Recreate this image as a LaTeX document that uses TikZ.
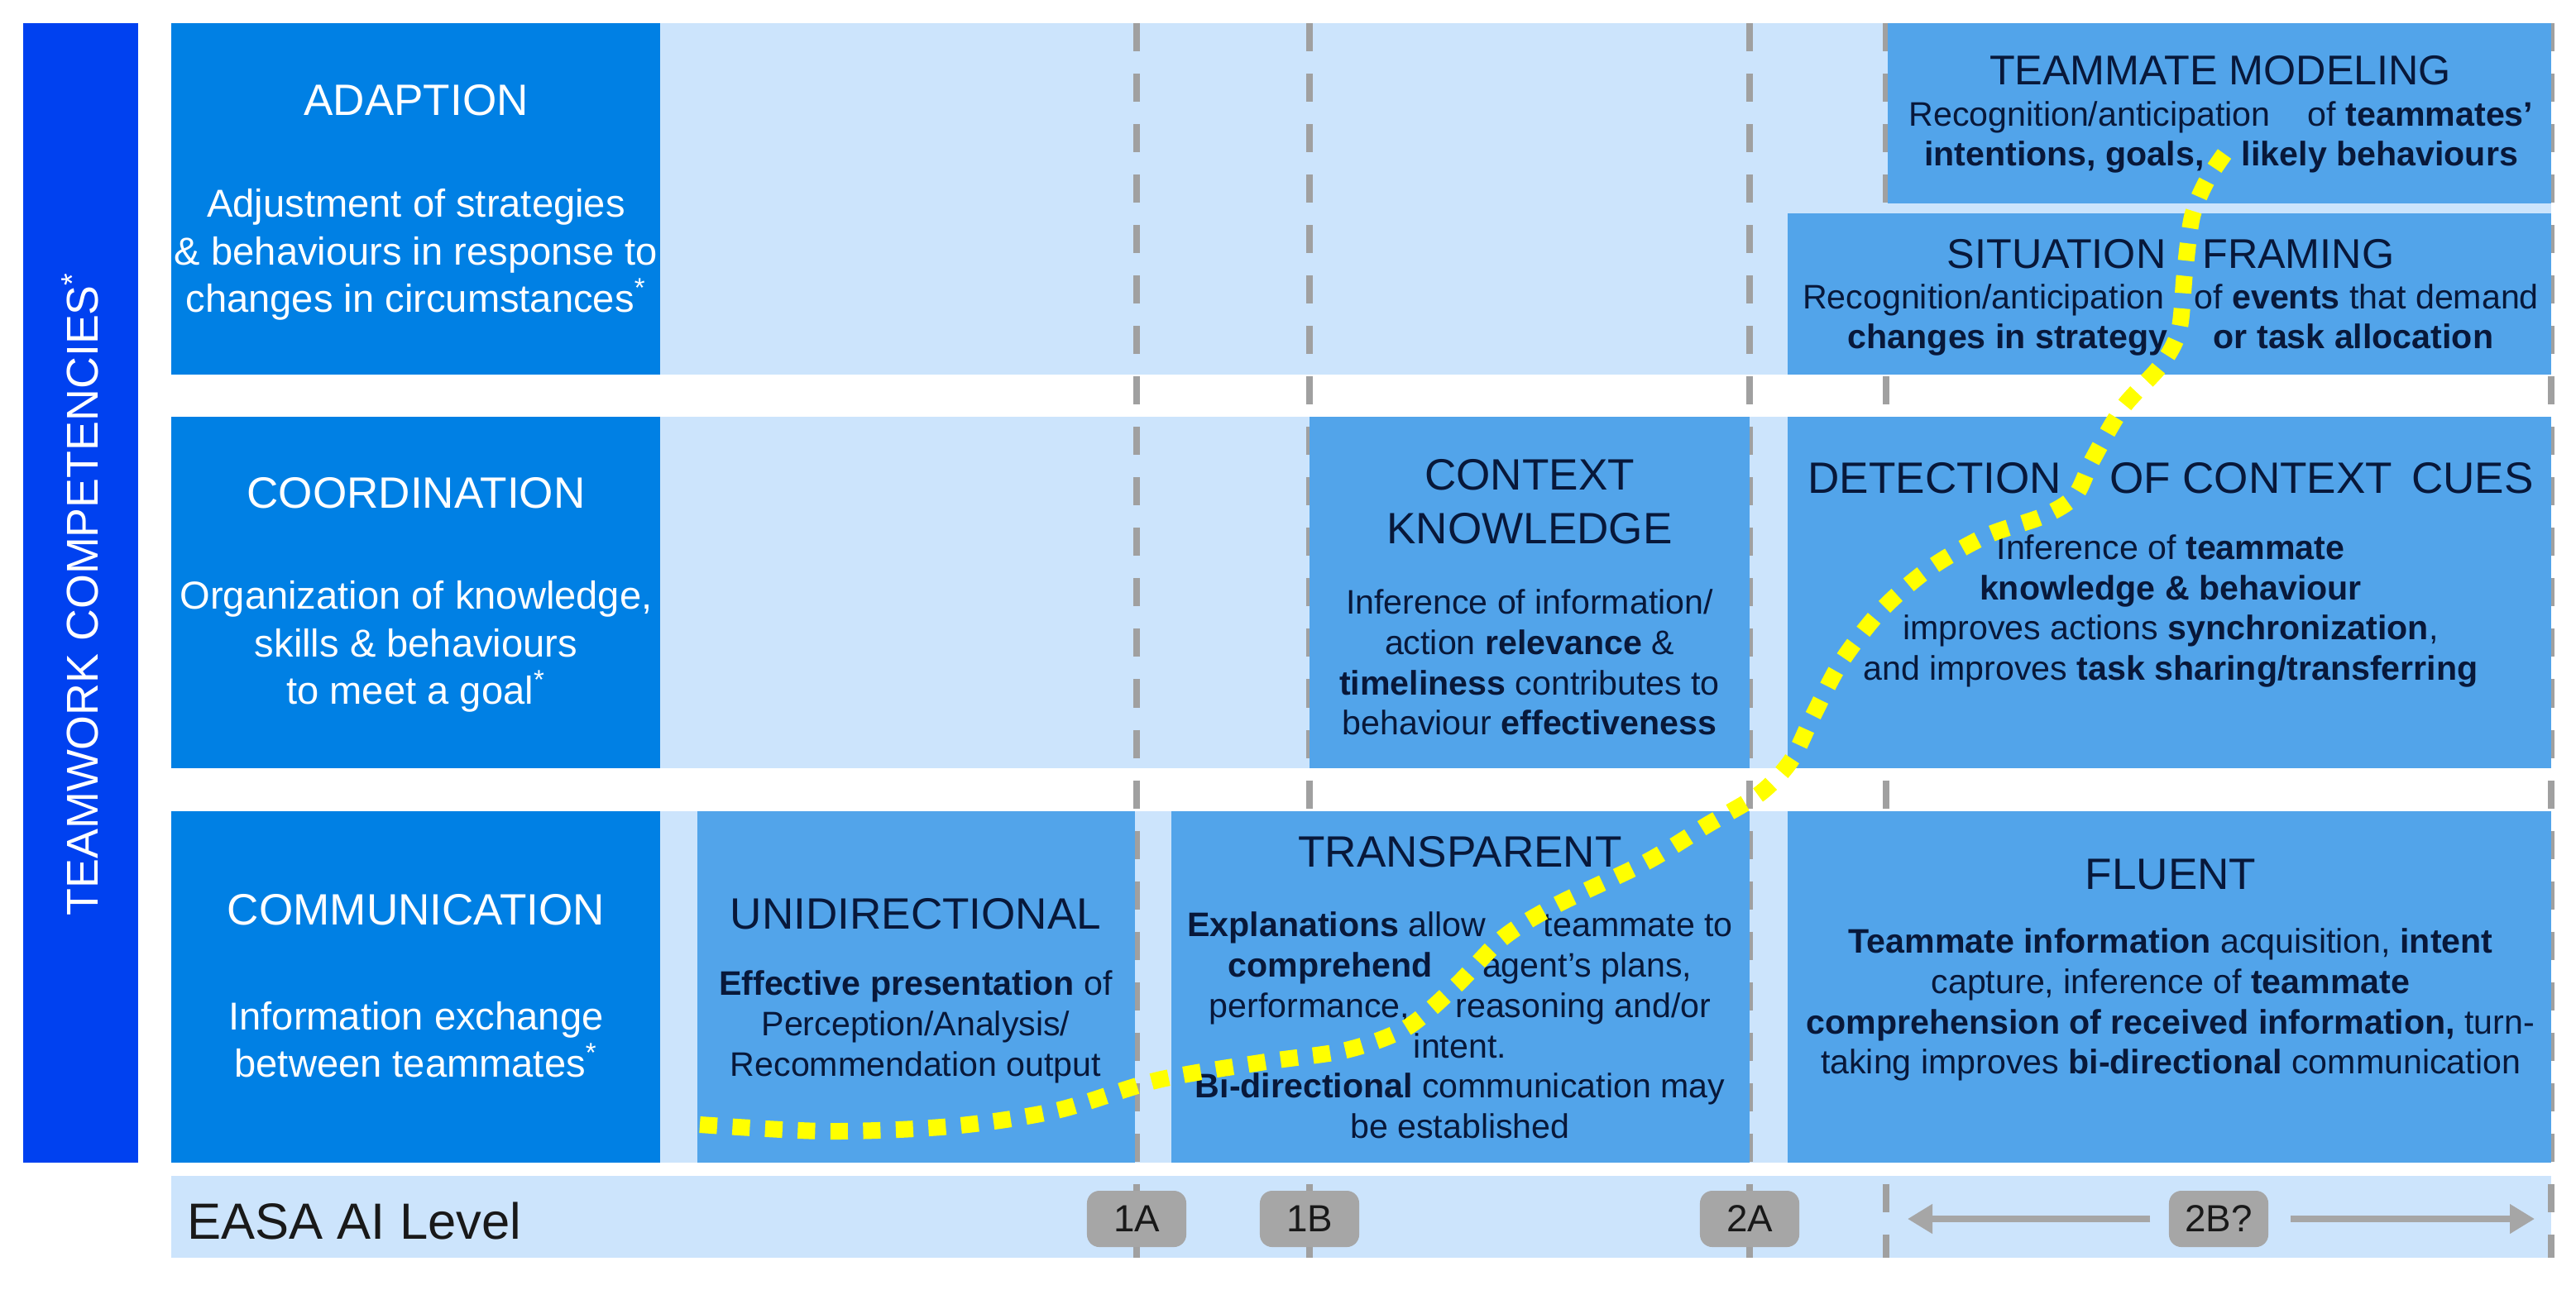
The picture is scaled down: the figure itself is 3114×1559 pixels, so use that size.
\documentclass[tikz,border=0pt]{standalone}
\usepackage{fontspec}
\setmainfont{Liberation Sans}
\usetikzlibrary{arrows.meta}
\definecolor{barblue}{RGB}{0,65,240}
\definecolor{colblue}{RGB}{0,128,228}
\definecolor{lightband}{RGB}{204,228,252}
\definecolor{midblue}{RGB}{82,164,234}
\definecolor{darktext}{RGB}{8,24,58}
\definecolor{dashgrey}{RGB}{160,160,160}
\definecolor{lvlgrey}{RGB}{166,166,166}
\definecolor{yel}{RGB}{255,255,0}
\begin{document}
\begin{tikzpicture}[x=0.01cm,y=-0.01cm,
  wttl/.style={text=white,font=\fontsize{15.1pt}{18.5pt}\selectfont,align=center,inner sep=0pt},
  wbody/.style={text=white,font=\fontsize{13.4pt}{16.4pt}\selectfont,align=center,inner sep=0pt},
  dttl/.style={text=darktext,font=\fontsize{15.1pt}{18.5pt}\selectfont,align=center,inner sep=0pt},
  dbody/.style={text=darktext,font=\fontsize{11.7pt}{13.86pt}\selectfont,align=center,inner sep=0pt},
  dashline/.style={draw=dashgrey,line width=0.075cm,dash pattern=on 0.34cm off 0.27cm},
  lvlbox/.style={fill=lvlgrey,rounded corners=0.15cm,minimum width=1.2cm,minimum height=0.68cm,inner sep=0pt,text=black!90,font=\fontsize{13pt}{15pt}\selectfont},
  garrow/.style={draw=lvlgrey,line width=0.08cm,-{Triangle[length=0.3cm,width=0.34cm]}},
  yelline/.style={draw=yel,line width=0.2cm,dash pattern=on 0.21cm off 0.185cm}
]
\useasboundingbox (0,0) rectangle (3114,1559);
\fill[white] (0,0) rectangle (3114,1559);

% light bands
\fill[lightband] (798,28) rectangle (3084,453);
\fill[lightband] (798,504) rectangle (3084,929);
\fill[lightband] (798,981) rectangle (3084,1406);
\fill[lightband] (207,1422) rectangle (3084,1521);

% left bar and first column
\fill[barblue] (28,28) rectangle (167,1406);
\fill[colblue] (207,28) rectangle (798,453);
\fill[colblue] (207,504) rectangle (798,929);
\fill[colblue] (207,981) rectangle (798,1406);

% dashed level lines
\foreach \xx in {1374,1583,2115,2280,3084}
  \draw[dashline] (\xx,28) -- (\xx,1521);

% mid-blue boxes
\fill[midblue] (843,981) rectangle (1372,1406);
\fill[midblue] (1416,981) rectangle (2115,1406);
\fill[midblue] (2161,981) rectangle (3084,1406);
\fill[midblue] (1583,504) rectangle (2115,929);
\fill[midblue] (2161,504) rectangle (3084,929);
\fill[midblue] (2282,28) rectangle (3084,246);
\fill[midblue] (2161,258) rectangle (3084,453);

% vertical label
\node[text=white,font=\fontsize{15.3pt}{18pt}\selectfont,rotate=90,inner sep=0pt] (team) at (97,718) {TEAMWORK COMPETENCIES\textsuperscript{*}};

% first column texts
\node[wttl] (adt) at (503,121) {ADAPTION};
\node[wbody] (adb) at (503,308) {Adjustment of strategies\\\& behaviours in response to\\changes in circumstances\textsuperscript{*}};
\node[wttl] (cot) at (503,596) {COORDINATION};
\node[wbody] (cob) at (503,782) {Organization of knowledge,\\skills \& behaviours\\to meet a goal\textsuperscript{*}};
\node[wttl] (cmt) at (503,1100) {COMMUNICATION};
\node[wbody] (cmb) at (503,1257) {Information exchange\\between teammates\textsuperscript{*}};

% communication row
\node[dttl] (unit) at (1107,1105) {UNIDIRECTIONAL};
\node[dbody] (unib) at (1107,1242) {\textbf{Effective presentation} of\\Perception/Analysis/\\Recommendation output};
\node[dttl] (trat) at (1765,1030) {TRANSPARENT};
\node[dbody] (trab) at (1765,1240) {\textbf{Explanations} allow\hspace{0.58cm} teammate to\\\textbf{comprehend}\hspace{0.49cm} agent’s plans,\\performance,\hspace{0.44cm} reasoning and/or\\intent.\\\textbf{Bi-directional} communication may\\be established};
\node[dttl] (flut) at (2624,1057) {FLUENT};
\node[dbody] (flub) at (2624,1215) {\textbf{Teammate information} acquisition, \textbf{intent}\\capture, inference of \textbf{teammate}\\\textbf{comprehension of received information,} turn-\\taking improves \textbf{bi-directional} communication};

% coordination row
\node[dttl] (ckt) at (1849,607) {CONTEXT\\KNOWLEDGE};
\node[dbody] (ckb) at (1849,801) {Inference of information/\\action \textbf{relevance} \&\\\textbf{timeliness} contributes to\\behaviour \textbf{effectiveness}};
\node[dttl] (dct) at (2624,578) {DETECTION\hspace{0.43cm} OF CONTEXT\hspace{0.08cm} CUES};
\node[dbody] (dcb) at (2624,739) {Inference of \textbf{teammate}\\\textbf{knowledge \& behaviour}\\improves actions \textbf{synchronization},\\and improves \textbf{task sharing/transferring}};

% adaption row
\node[dttl,font=\fontsize{14.3pt}{17pt}\selectfont] (tmt) at (2684,85) {TEAMMATE MODELING};
\node[dbody] (tmb) at (2685,166) {Recognition/anticipation\hspace{0.34cm} of \textbf{teammates’}\\\textbf{intentions, goals,\hspace{0.34cm} likely behaviours}};
\node[dttl,font=\fontsize{14.3pt}{17pt}\selectfont] (sft) at (2624,307) {SITUATION\hspace{0.3cm} FRAMING};
\node[dbody] (sfb) at (2624,387) {Recognition/anticipation\hspace{0.25cm} of \textbf{events} that demand\\\textbf{changes in strategy}\hspace{0.44cm} \textbf{or task allocation}};

% EASA level bar
\node[anchor=west,inner sep=0pt,text=black!90,font=\fontsize{17.5pt}{20pt}\selectfont] (easa) at (226,1476) {EASA AI Level};
\node[lvlbox] (l1A) at (1374,1474) {1A};
\node[lvlbox] (l1B) at (1583,1474) {1B};
\node[lvlbox] (l2A) at (2115,1474) {2A};
\node[lvlbox] (l2B) at (2682,1474) {2B?};
\coordinate (tipL) at (2306,1474);
\coordinate (tipR) at (3064,1474);
\draw[garrow,shorten <=0.22cm] (l2B) -- (tipL);
\draw[garrow,shorten <=0.26cm] (l2B) -- (tipR);

% yellow progression curve
\draw[yelline] plot[smooth,tension=0.5] coordinates {
 (846,1360) (1000,1368) (1150,1362) (1277,1343) (1400,1306) (1530,1284)
 (1627,1270) (1700,1243) (1760,1192) (1817,1134) (1880,1095) (1989,1043)
 (2063,998) (2127,960) (2165,920) (2191,867) (2226,800) (2275,737)
 (2333,687) (2401,648) (2470,624) (2508,600) (2530,555) (2566,493)
 (2612,442) (2634,400) (2641,330) (2650,262) (2668,218) (2692,182)};
\end{tikzpicture}
\end{document}
